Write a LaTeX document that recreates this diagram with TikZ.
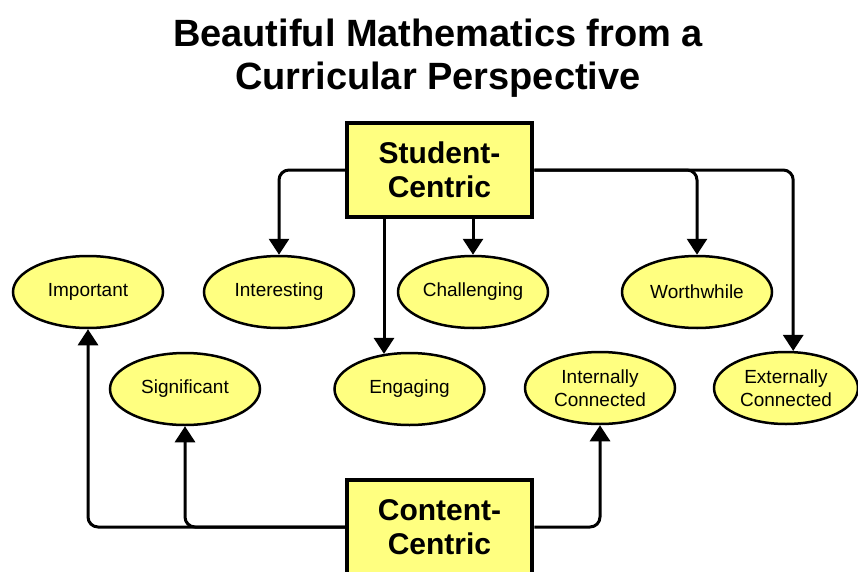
\documentclass[tikz,border=0pt]{standalone}
\usepackage{fontspec}
\setmainfont{Liberation Sans}
\usetikzlibrary{arrows.meta,shapes.geometric}
\definecolor{paleyellow}{RGB}{255,255,128}
\tikzset{
  mainbox/.style={draw=black, line width=4.5pt, fill=paleyellow, minimum width=185pt, minimum height=94pt, inner sep=0pt, align=center, font=\fontsize{30pt}{34pt}\selectfont\bfseries},
  quality/.style={ellipse, draw=black, line width=2.5pt, fill=paleyellow, minimum width=150pt, minimum height=72pt, inner sep=0pt, align=center, font=\fontsize{19pt}{23pt}\selectfont},
  conn/.style={line width=3pt, rounded corners=10pt, -{Triangle[width=20pt,length=16pt]}}
}
\begin{document}
\begin{tikzpicture}[x=1pt,y=-1pt]
\useasboundingbox (0,0) rectangle (858,572);
\node[anchor=base, align=center, font=\fontsize{38pt}{43pt}\selectfont\bfseries] (title) at (438,90) {Beautiful Mathematics from a\\Curricular Perspective};
\node[mainbox] (S) at (439.5,170) {Student-\\Centric};
\node[mainbox] (C) at (439.5,527) {Content-\\Centric};
\node[quality] (imp) at (88,292) {Important};
\node[quality] (int) at (279,292) {Interesting};
\node[quality] (cha) at (473,292) {Challenging};
\node[quality] (wor) at (697,292) {Worthwhile};
\node[quality] (sig) at (185,389) {Significant};
\node[quality] (eng) at (409.5,389) {Engaging};
\node[quality] (inc) at (600,388) {Internally\\Connected};
\node[quality, minimum width=144pt] (exc) at (786,388) {Externally\\Connected};
% Student-centric connectors
\draw[conn] (S.west) -| (int.north);
\draw[conn] (cha.north |- S.south) -- (cha.north);
\draw[conn] (eng.126 |- S.south) -- (eng.126);
\draw[conn] (S.east) -| (wor.north);
\draw[conn] (S.east) -| (exc.79);
% Content-centric connectors
\draw[conn] (C.west) -| (imp.south);
\draw[conn] (C.west) -| (sig.south);
\draw[conn] (C.east) -| (inc.south);
\end{tikzpicture}
\end{document}
